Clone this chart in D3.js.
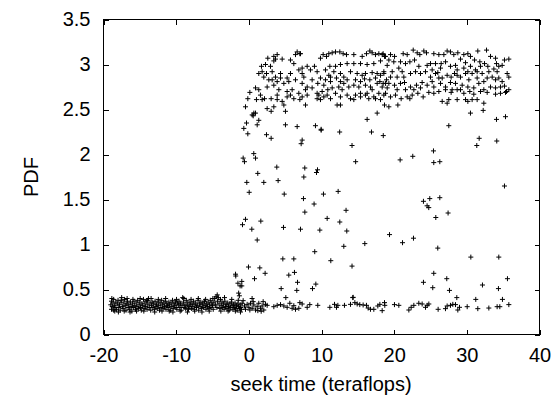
<!DOCTYPE html>
<html>
<head>
<meta charset="utf-8">
<script src="https://cdn.jsdelivr.net/npm/d3@7"></script>
<style>
html,body{margin:0;padding:0;background:#fff;}
svg{display:block;}
text{font-family:"Liberation Sans",Arial,Helvetica,sans-serif;fill:#000;}
</style>
</head>
<body>
<svg id="chart" width="554" height="396"></svg>
<script>
// ---------- data ----------
const xTicks = [-20, -10, 0, 10, 20, 30, 40];
const yTicks = [0, 0.5, 1, 1.5, 2, 2.5, 3, 3.5];
const xLabel = "seek time (teraflops)";
const yLabel = "PDF";

// dense low band before the jump
const lowBandLeft = [
[-19.0,0.33],[-18.9,0.28],[-18.9,0.37],[-18.8,0.31],[-18.7,0.35],[-18.6,0.27],[-18.6,0.39],[-18.5,0.32],[-18.4,0.30],[-18.3,0.36],
[-18.2,0.28],[-18.1,0.34],[-18.0,0.38],[-17.9,0.30],[-17.8,0.33],[-17.7,0.27],[-17.6,0.36],[-17.5,0.41],[-17.4,0.31],[-17.3,0.29],
[-17.2,0.35],[-17.1,0.39],[-17.0,0.32],[-16.9,0.27],[-16.8,0.34],[-16.7,0.37],[-16.6,0.30],[-16.5,0.33],[-16.4,0.28],[-16.3,0.36],
[-16.2,0.31],[-16.1,0.26],[-16.0,0.34],[-15.9,0.30],[-15.8,0.37],[-15.7,0.32],[-15.6,0.28],[-15.5,0.35],[-15.4,0.31],[-15.3,0.38],
[-15.2,0.29],[-15.1,0.33],[-15.0,0.36],[-14.9,0.30],[-14.8,0.27],[-14.7,0.34],[-14.6,0.32],[-14.5,0.39],[-14.4,0.29],[-14.3,0.35],
[-14.2,0.31],[-14.1,0.37],[-14.0,0.28],[-13.9,0.33],[-13.8,0.40],[-13.7,0.30],[-13.6,0.35],[-13.5,0.27],[-13.4,0.32],[-13.3,0.36],
[-13.2,0.30],[-13.1,0.34],[-13.0,0.28],[-12.9,0.37],[-12.8,0.31],[-12.7,0.33],[-12.6,0.29],[-12.5,0.36],[-12.4,0.32],[-12.3,0.27],
[-12.2,0.35],[-12.1,0.30],[-12.0,0.38],[-11.9,0.33],[-11.8,0.29],[-11.7,0.35],[-11.6,0.31],[-11.5,0.37],[-11.4,0.28],[-11.3,0.34],
[-11.2,0.32],[-11.1,0.30],[-11.0,0.36],[-10.9,0.33],[-10.8,0.27],[-10.7,0.35],[-10.6,0.31],[-10.5,0.38],[-10.4,0.29],[-10.3,0.34],
[-10.2,0.32],[-10.1,0.36],[-10.0,0.30],[-9.9,0.28],[-9.8,0.35],[-9.7,0.33],[-9.6,0.37],[-9.5,0.30],[-9.4,0.34],[-9.3,0.27],
[-9.2,0.32],[-9.1,0.41],[-9.0,0.36],[-8.9,0.30],[-8.8,0.33],[-8.7,0.29],[-8.6,0.38],[-8.5,0.32],[-8.4,0.35],[-8.3,0.28],
[-8.2,0.31],[-8.1,0.36],[-8.0,0.33],[-7.9,0.29],[-7.8,0.34],[-7.7,0.31],[-7.6,0.37],[-7.5,0.28],[-7.4,0.33],[-7.3,0.35],
[-7.2,0.30],[-7.1,0.32],[-7.0,0.38],[-6.9,0.27],[-6.8,0.34],[-6.7,0.31],[-6.6,0.36],[-6.5,0.29],[-6.4,0.33],[-6.3,0.35],
[-6.2,0.30],[-6.1,0.37],[-6.0,0.32],[-5.9,0.28],[-5.8,0.34],[-5.7,0.31],[-5.6,0.36],[-5.5,0.29],[-5.4,0.33],[-5.3,0.38],
[-5.2,0.30],[-5.1,0.35],[-5.0,0.32],[-4.9,0.28],[-4.8,0.36],[-4.7,0.40],[-4.6,0.33],[-4.5,0.42],[-4.4,0.30],[-4.3,0.37],
[-4.2,0.41],[-4.1,0.34],[-4.0,0.29],[-3.9,0.39],[-3.8,0.32],[-3.7,0.36],[-3.6,0.30],[-3.5,0.34],[-3.4,0.28],[-3.3,0.37],
[-3.2,0.31],[-3.1,0.33],[-3.0,0.29],[-2.9,0.35],[-2.8,0.31],[-2.7,0.27],[-2.6,0.34],[-2.5,0.30],[-2.4,0.36],[-2.3,0.32],
[-2.2,0.28],[-2.1,0.33],[-2.0,0.30],[-1.9,0.35],[-1.8,0.29],[-1.7,0.32],[-1.6,0.27],[-1.5,0.34],[-1.4,0.31],[-1.3,0.29],
[-1.2,0.33],[-1.1,0.30],[-1.0,0.28],
[-18.85,0.40],[-18.45,0.26],[-17.95,0.25],[-17.55,0.38],[-17.15,0.26],[-16.75,0.40],[-16.35,0.25],[-15.95,0.39],[-15.45,0.26],[-14.95,0.40],
[-14.45,0.26],[-13.95,0.38],[-13.45,0.40],[-12.95,0.25],[-12.45,0.39],[-11.95,0.26],[-11.45,0.40],[-10.95,0.26],[-10.45,0.25],[-9.95,0.39],
[-9.45,0.26],[-8.95,0.40],[-8.45,0.25],[-7.95,0.39],[-7.45,0.26],[-6.95,0.40],[-6.45,0.25],[-5.95,0.39],[-5.45,0.26],[-4.95,0.40],
[-4.35,0.44],[-3.85,0.26],[-3.35,0.41],[-2.85,0.26],[-2.35,0.39],[-1.85,0.26],[-1.45,0.38],[-1.15,0.25]
];

// sparse low band after the jump
const lowBandRight = [
[-0.92,0.347],[-0.6,0.317],[-0.23,0.335],[0.0,0.302],[0.23,0.347],[0.46,0.291],[0.69,0.328],[0.92,0.272],[1.15,0.309],[1.37,0.347],
[1.6,0.291],[1.83,0.317],[2.06,0.272],[2.29,0.335],[2.52,0.324],[-0.46,0.28],[0.14,0.272],[1.24,0.265],[1.7,0.258],[0.6,0.365],
[-0.78,0.376],[1.97,0.365],[3.44,0.309],[3.9,0.324],[4.36,0.332],[4.82,0.317],[5.27,0.302],[5.64,0.347],[5.96,0.291],[6.19,0.32],
[6.42,0.28],[6.88,0.291],[7.02,0.354],[7.34,0.339],[8.03,0.302],[8.39,0.332],[9.49,0.324],[11.15,0.302],[11.79,0.335],[12.06,0.302],
[12.25,0.324],[13.16,0.324],[13.99,0.335],[14.36,0.413],[14.59,0.354],[14.91,0.339],[15.27,0.332],[15.73,0.328],[16.19,0.324],[16.42,0.294],
[16.74,0.28],[17.2,0.28],[17.75,0.317],[18.03,0.335],[18.35,0.265],[18.67,0.354],[18.71,0.324],[20.04,0.332],[20.64,0.324],[22.02,0.272],
[22.34,0.302],[22.71,0.324],[23.39,0.347],[23.85,0.339],[24.31,0.302],[24.54,0.324],[24.77,0.339],[26.05,0.28],[27.06,0.287],[27.29,0.317],
[27.75,0.324],[28.07,0.335],[28.44,0.332],[28.76,0.272],[28.99,0.302],[30.05,0.309],[31.51,0.287],[33.03,0.294],[34.17,0.309],[34.54,0.309],
[35.78,0.332]
];

// scattered points between the two bands
const midScatter = [
[-1.83,0.67],[-1.8,0.65],[-1.5,0.57],[-1.2,0.54],[-1.4,0.46],[-1.3,0.43],
[-0.14,2.23],[2.43,2.22],[3.07,2.18],[7.34,2.16],[7.2,2.12],[12.5,2.25],[9.95,2.27],[16.88,2.25],[18.5,2.21],[14.2,2.10],
[14.7,1.92],[-0.78,1.96],[-0.6,1.92],[0.68,2.01],[0.92,1.96],[3.85,1.86],[1.23,1.79],[-0.28,1.69],[2.06,1.69],[4.03,1.71],
[0.05,1.58],[4.87,1.56],[7.7,1.85],[7.57,1.75],[9.45,1.83],[9.31,1.80],[7.52,1.51],[10.27,1.56],[12.29,1.59],[8.98,1.45],
[7.71,1.36],[13.38,1.38],[10.78,1.29],[12.52,1.25],[13.48,1.15],[-0.46,1.28],[-0.87,1.22],[1.65,1.26],[0.41,1.17],[4.77,1.19],
[7.11,1.17],[9.77,1.16],[1.15,1.05],[9.07,0.92],[13.07,0.98],[15.96,1.01],[19.36,1.11],[21.15,1.02],[22.66,1.07],[4.68,0.84],
[6.19,0.84],[11.28,0.82],[14.2,0.76],[-0.05,0.75],[1.51,0.74],[2.24,0.68],[0.78,0.62],[5.5,0.66],[6.28,0.69],[6.7,0.58],
[9.22,0.56],[4.45,0.51],[6.6,0.49],[8.76,0.51],[-0.97,0.59],[-0.97,0.54],[14.3,0.41],[5.09,0.41],[0.45,0.40],
[25.41,2.04],[25.45,1.91],[26.28,1.92],[20.82,1.94],[22.56,1.98],[31.7,2.18],[31.37,2.10],[34.12,2.15],[35.18,1.65],[24.03,1.48],
[24.9,1.51],[26.28,1.52],[24.53,1.43],[24.76,1.41],[27.42,1.35],[25.73,1.30],[26.0,0.96],[30.55,0.86],[34.4,0.86],[25.45,0.68],
[27.24,0.62],[24.03,0.58],[25.31,0.52],[27.61,0.49],[28.62,0.41],[32.15,0.55],[34.35,0.51],[35.59,0.62],[31.23,0.39],[34.9,0.39]
];

// dense high band after the jump
const highBand = [
[6.65,3.14],[7.02,3.12],[3.9,3.11],[2.61,3.07],[3.44,3.04],[4.59,3.06],[5.73,3.05],[6.19,3.01],[2.29,3.0],[2.98,2.98],
[1.83,2.92],[1.37,2.90],[2.06,2.86],[3.21,2.92],[3.67,2.86],[4.36,2.90],[5.73,2.90],[6.88,2.94],[7.34,2.96],[8.03,2.98],
[8.48,2.94],[9.03,2.98],[9.86,3.07],[10.23,3.11],[10.69,3.09],[11.01,3.12],[11.47,3.13],[11.93,3.14],[12.52,3.14],[12.98,3.12],
[13.44,3.11],[14.45,3.11],[15.6,3.09],[16.19,3.12],[16.65,3.15],[16.97,3.13],[17.43,3.11],[17.89,3.12],[18.48,3.12],[18.67,3.09],
[18.12,3.04],[17.2,3.01],[16.28,3.0],[15.37,3.01],[14.45,3.01],[13.53,3.01],[12.61,3.0],[11.93,2.98],[11.15,2.98],[10.55,2.94],
[11.01,2.88],[11.7,2.92],[12.61,2.90],[13.07,2.86],[13.99,2.92],[14.91,2.90],[15.6,2.88],[16.05,2.90],[16.97,2.91],[17.66,2.90],
[18.12,2.88],[18.58,2.92],
[4.82,2.79],[5.5,2.81],[6.42,2.83],[7.34,2.79],[8.03,2.75],[8.71,2.83],[9.49,2.79],[10.32,2.77],[11.24,2.81],[11.47,2.74],
[12.38,2.75],[13.07,2.79],[13.76,2.75],[14.45,2.77],[15.14,2.75],[16.05,2.77],[16.74,2.75],[17.66,2.79],[18.35,2.75],[1.37,2.72],
[0.92,2.74],[2.52,2.75],[3.44,2.77],[4.13,2.72],[5.27,2.70],[5.96,2.72],[6.88,2.68],[7.8,2.72],[8.71,2.74],[9.4,2.68],
[10.09,2.70],[10.87,2.72],[11.93,2.68],[12.84,2.72],[13.53,2.66],[14.68,2.66],[15.37,2.68],[16.28,2.68],[16.97,2.72],[17.89,2.68],
[18.58,2.66],
[0.14,2.69],[-0.14,2.62],[1.05,2.61],[1.83,2.61],[2.16,2.62],[3.07,2.62],[3.9,2.61],[4.59,2.59],[5.27,2.64],[6.19,2.62],
[7.02,2.61],[7.8,2.55],[9.4,2.62],[9.86,2.61],[10.78,2.66],[12.15,2.55],[12.61,2.55],[14.45,2.61],[15.37,2.64],[16.51,2.62],
[17.2,2.64],[18.12,2.61],[4.82,2.55],[3.44,2.53],[2.52,2.51],[3.07,2.48],[5.04,2.48],[-0.46,2.53],[0.69,2.46],[0.46,2.44],
[0.92,2.46],[0.6,2.43],[1.37,2.38],[-0.32,2.35],[-0.69,2.29],[1.15,2.33],[5.04,2.33],[6.65,2.31],[9.17,2.32],[9.95,2.28],
[16.28,2.39],[17.66,2.46],
[7.11,3.12],[6.42,3.11],[3.44,3.09],[3.67,3.06],[1.74,2.98],[2.43,2.90],[2.75,2.83],[3.21,2.83],[3.9,2.81],[4.36,2.85],
[5.27,2.85],[7.34,2.90],[7.57,2.86],[9.4,2.92],[9.86,2.85],[10.55,2.83],[11.24,2.86],[12.06,2.85],[12.61,2.81],[13.53,2.83],
[14.68,2.83],[15.37,2.81],[15.92,2.84],[16.65,2.83],[17.43,2.85],[18.03,2.81],[18.8,2.79],[1.6,2.66],[3.9,2.66],[5.73,2.66],
[8.03,2.66],[10.32,2.64],[11.24,2.62],[12.61,2.64],[13.99,2.62],[16.05,2.66],[17.43,2.62],[9.63,2.66],[7.34,2.64],
[18.35,3.11],[18.81,3.09],[19.5,3.11],[20.05,3.09],[21.24,3.12],[21.79,3.11],[22.62,3.16],[23.17,3.13],[23.53,3.11],[24.08,3.15],
[24.45,3.13],[25.46,3.12],[26.15,3.11],[26.84,3.11],[27.29,3.15],[27.75,3.14],[28.21,3.11],[28.76,3.13],[29.59,3.11],[30.14,3.12],
[30.5,3.09],[31.51,3.15],[32.71,3.16],[33.26,3.09],[33.95,3.07],[34.4,2.98],[35.18,3.05],[35.78,3.06],[19.27,3.05],[19.95,3.03],
[20.87,3.03],[21.56,3.01],[22.16,3.03],[22.8,3.05],[25.0,3.01],[25.69,3.01],[26.47,3.01],[27.07,3.03],[29.13,3.06],[29.82,3.02],
[31.06,3.05],[31.79,3.03],[32.43,3.01],[32.89,2.98],[33.72,2.95],[34.08,3.01],
[18.58,2.90],[19.73,2.92],[20.41,2.86],[19.5,2.86],[18.95,2.83],[21.33,2.86],[22.25,2.90],[22.94,2.92],[23.62,2.90],[24.31,2.92],
[25.0,2.86],[25.69,2.90],[26.01,2.91],[26.61,2.85],[27.29,2.88],[27.84,2.86],[28.3,2.90],[28.67,2.88],[29.13,2.86],[29.82,2.90],
[30.14,2.92],[30.73,2.90],[31.42,2.92],[32.11,2.90],[33.03,2.92],[33.49,2.86],[34.4,2.85],[35.55,2.90],[35.78,2.86],[18.49,2.79],
[19.27,2.79],[20.05,2.77],[20.87,2.79],[21.42,2.80],[22.25,2.75],[23.07,2.77],[23.85,2.80],[24.54,2.77],[25.46,2.75],[26.38,2.79],
[27.07,2.75],[27.75,2.80],[28.44,2.79],[29.36,2.77],[30.14,2.75],[30.96,2.74],[31.65,2.79],[32.34,2.72],[33.26,2.75],[33.95,2.74],
[34.63,2.75],[35.18,2.76],[35.78,2.72],[35.46,2.70],
[18.81,2.68],[19.5,2.64],[20.18,2.66],[20.96,2.62],[21.79,2.64],[22.48,2.66],[23.26,2.68],[23.99,2.64],[24.77,2.69],[25.46,2.68],
[26.15,2.70],[27.07,2.72],[27.84,2.69],[28.67,2.72],[29.59,2.68],[30.41,2.70],[30.96,2.67],[31.88,2.70],[32.8,2.69],[33.95,2.67],
[34.63,2.68],[35.32,2.69],[18.67,2.55],[19.27,2.53],[20.51,2.55],[22.16,2.62],[26.61,2.59],[27.29,2.57],[27.52,2.61],[28.67,2.61],
[29.82,2.61],[30.14,2.59],[30.73,2.61],[31.42,2.61],[32.34,2.57],[32.25,2.49],[30.5,2.46],[34.08,2.39],[35.32,2.42],[27.52,2.32],
[19.04,2.99],[20.64,2.96],[21.1,2.92],[23.4,2.98],[24.54,2.99],[25.23,2.94],[26.38,2.96],[27.75,2.98],[28.44,2.99],[28.67,2.94],
[29.59,2.96],[30.5,2.98],[31.19,2.94],[31.88,2.98],[32.8,2.85],[33.95,2.83],[34.86,2.81],[19.04,2.74],[20.41,2.72],[21.56,2.72],
[22.71,2.72],[23.62,2.74],[25.23,2.81],[26.15,2.85],[27.98,2.72],[29.13,2.72],[30.28,2.83],[31.42,2.85],[32.34,2.81],[34.17,2.92],
[34.86,2.99]
];

// ---------- chart ----------
const svg = d3.select("#chart");
const x = d3.scaleLinear().domain([-20, 40]).range([103.5, 539.5]);
const y = d3.scaleLinear().domain([0, 3.5]).range([334.5, 19.5]);

const allPoints = [].concat(lowBandLeft, lowBandRight, midScatter, highBand);

// points
const plus = "M-2.5,0H2.5M0,-2.5V2.5";
svg.append("g")
  .selectAll("path")
  .data(allPoints)
  .join("path")
  .attr("d", plus)
  .attr("transform", d => `translate(${x(d[0])},${y(d[1])})`)
  .attr("fill", "none")
  .attr("stroke", "#000")
  .attr("stroke-width", 1);

// axes
const tickLen = 5;
const fmt = d => String(d);
const gx = svg.append("g").attr("transform", `translate(0,${y(0)})`)
  .call(d3.axisBottom(x).tickValues(xTicks).tickSizeInner(-tickLen).tickSizeOuter(0).tickPadding(13).tickFormat(fmt));
const gy = svg.append("g").attr("transform", `translate(${x(-20)},0)`)
  .call(d3.axisLeft(y).tickValues(yTicks).tickSizeInner(-tickLen).tickSizeOuter(0).tickPadding(13).tickFormat(fmt));
const gt = svg.append("g").attr("transform", `translate(0,${y(3.5)})`)
  .call(d3.axisTop(x).tickValues(xTicks).tickSizeInner(-tickLen).tickSizeOuter(0).tickFormat(""));
const gr = svg.append("g").attr("transform", `translate(${x(40)},0)`)
  .call(d3.axisRight(y).tickValues(yTicks).tickSizeInner(-tickLen).tickSizeOuter(0).tickFormat(""));

[gx, gy, gt, gr].forEach(g => {
  g.select(".domain").remove();
  g.selectAll("line").attr("stroke", "#000").attr("shape-rendering", "crispEdges");
  g.selectAll("text").attr("font-size", 20).attr("font-family", "'Liberation Sans',Arial,sans-serif").attr("fill", "#000");
});

// frame
svg.append("rect")
  .attr("x", x(-20)).attr("y", y(3.5))
  .attr("width", x(40) - x(-20)).attr("height", y(0) - y(3.5))
  .attr("fill", "none").attr("stroke", "#000").attr("stroke-width", 1)
  .attr("shape-rendering", "crispEdges");

// axis titles
svg.append("text")
  .attr("x", 321).attr("y", 391)
  .attr("text-anchor", "middle")
  .attr("font-size", 20)
  .text(xLabel);
svg.append("text")
  .attr("transform", "translate(38,177) rotate(-90)")
  .attr("text-anchor", "middle")
  .attr("font-size", 20)
  .text(yLabel);
</script>
</body>
</html>
